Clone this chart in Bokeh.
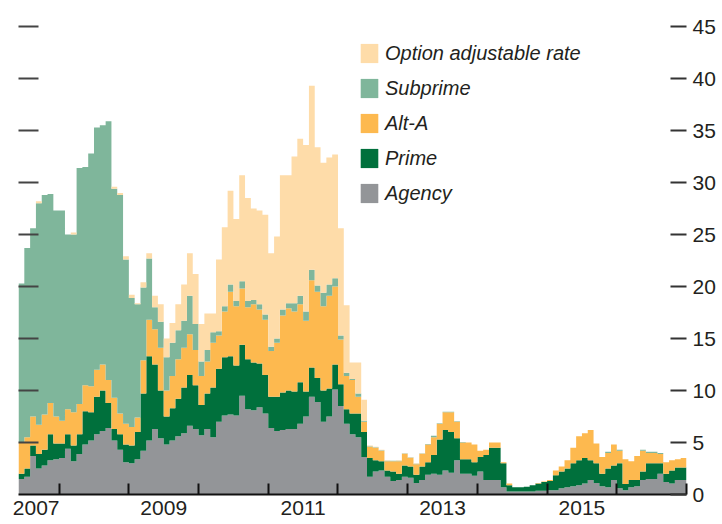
from bokeh.plotting import figure
from bokeh.models import Range1d, FixedTicker, LinearAxis, Legend, LegendItem, ColumnDataSource
from bokeh.embed import file_html
from bokeh.resources import INLINE

# Monthly data, June 2007 .. December 2016 (percent)
start_year, start_month = 2007, 6

agency = [1.5, 1.7, 3.7, 2.5, 2.8, 3.3, 3.4, 3.5, 4.4, 3.2,
          3.9, 4.8, 5.2, 5.8, 6.1, 6.4, 5.2, 4.3, 3.1, 3.0,
          3.4, 4.2, 5.2, 6.3, 5.4, 4.8, 5.2, 5.6, 5.9, 6.6,
          6.3, 5.7, 6.3, 5.5, 7.0, 7.6, 7.7, 7.6, 9.5, 8.2,
          8.1, 8.4, 7.8, 6.4, 6.1, 6.2, 6.3, 6.3, 6.8, 7.5,
          9.4, 8.9, 7.0, 7.5, 10.1, 8.5, 6.8, 5.8, 5.5, 3.6,
          1.7, 2.2, 2.3, 1.7, 1.3, 1.4, 1.7, 1.6, 1.1, 1.4,
          1.9, 2.0, 1.9, 2.3, 2.1, 3.3, 2.0, 2.0, 1.8, 2.2,
          1.4, 1.4, 1.4, 0.7, 0.3, 0.3, 0.3, 0.3, 0.3, 0.35,
          0.35, 0.4, 0.4, 0.6, 0.7, 0.8, 0.9, 1.05, 1.4, 1.1,
          0.8, 0.7, 1.4, 0.6, 0.4, 0.7, 0.8, 1.4, 1.5, 1.5,
          2.0, 1.2, 1.05, 1.4, 1.4]

prime = [0.5, 0.8, 1.0, 1.4, 1.5, 2.5, 1.5, 1.4, 1.4, 1.5,
         1.9, 3.2, 2.7, 3.6, 3.9, 2.4, 1.1, 1.5, 1.7, 1.7,
         2.6, 5.5, 8.1, 6.2, 4.6, 2.7, 3.1, 3.6, 4.4, 4.9,
         4.2, 2.9, 3.4, 4.8, 5.1, 5.6, 5.6, 4.8, 4.9, 4.8,
         4.6, 4.2, 3.7, 3.0, 3.3, 3.6, 3.7, 3.6, 4.0, 2.4,
         2.8, 2.3, 3.0, 2.7, 2.4, 2.1, 1.4, 2.0, 2.3, 2.4,
         1.8, 1.1, 0.9, 0.6, 0.9, 0.6, 1.1, 1.1, 0.8, 1.3,
         1.2, 1.8, 3.4, 3.9, 3.9, 2.1, 1.4, 1.4, 1.3, 1.4,
         2.4, 3.1, 3.1, 2.3, 0.6, 0.4, 0.4, 0.45, 0.6, 0.7,
         0.85, 0.9, 1.45, 1.6, 1.8, 2.2, 2.4, 2.45, 1.9, 1.9,
         1.2, 1.8, 1.4, 2.4, 0.6, 0.7, 0.6, 0.8, 1.5, 1.5,
         1.0, 0.8, 1.25, 1.2, 1.2]

alt_a = [3.0, 3.0, 2.8, 2.8, 3.4, 3.0, 2.6, 2.2, 2.4, 3.2,
         2.9, 2.5, 2.5, 2.6, 2.5, 2.2, 3.0, 2.0, 2.0, 1.8,
         1.4, 3.2, 3.5, 3.4, 4.1, 2.5, 3.1, 3.8, 3.8, 3.9,
         3.4, 2.8, 3.1, 4.3, 3.2, 4.4, 6.2, 5.7, 5.4, 5.0,
         5.6, 5.2, 5.3, 4.4, 5.2, 7.4, 7.9, 7.7, 7.5, 6.8,
         8.4, 8.3, 8.1, 8.9, 7.5, 4.3, 3.2, 3.2, 1.6, 1.0,
         1.1, 1.2, 1.0, 0.9, 1.0, 1.2, 1.1, 0.8, 1.0, 1.2,
         1.7, 1.7, 1.5, 1.7, 1.9, 1.6, 1.6, 1.6, 1.7, 0.6,
         0.5, 0.5, 0.5, 0.1, 0.15, 0.0, 0.0, 0.0, 0.0, 0.05,
         0.05, 0.1, 0.45, 0.5, 0.8, 1.5, 2.3, 2.4, 2.9, 1.9,
         1.6, 1.5, 2.0, 1.2, 2.4, 1.8, 2.3, 2.0, 1.0, 1.0,
         0.9, 1.1, 1.0, 0.8, 0.9]

subprime = [15.3, 18.2, 18.1, 21.3, 21.1, 20.1, 19.8, 20.2, 16.8, 17.1,
            22.7, 21.0, 22.4, 23.3, 23.0, 24.9, 20.1, 21.0, 15.8, 12.4,
            10.9, 7.0, 5.9, 2.1, 2.5, 3.2, 3.2, 2.8, 2.6, 3.7,
            2.5, 1.4, 1.1, 1.0, 0.4, 0.5, 0.7, 0.5, 0.7, 0.6,
            0.4, 0.5, 0.5, 0.4, 0.4, 0.6, 0.5, 0.8, 0.8, 0.9,
            1.0, 0.6, 1.3, 1.1, 0.8, 0.4, 0.3, 0.1, 0.3, 0.1,
            0.05, 0.05, 0.05, 0.05, 0.05, 0.05, 0.05, 0.05, 0.05, 0.05,
            0.05, 0.15, 0.05, 0.05, 0.05, 0.05, 0.05, 0.0, 0.0, 0.0,
            0.0, 0.0, 0.0, 0.0, 0.0, 0.0, 0.0, 0.0, 0.0, 0.0,
            0.0, 0.0, 0.0, 0.0, 0.0, 0.0, 0.0, 0.0, 0.0, 0.0,
            0.0, 0.1, 0.0, 0.1, 0.0, 0.0, 0.0, 0.1, 0.1, 0.1,
            0.1, 0.0, 0.0, 0.0, 0.0]

option_arm = [0.0, 0.0, 0.0, 0.2, 0.0, 0.0, 0.0, 0.0, 0.0, 0.2,
              0.0, 0.0, 0.0, 0.0, 0.0, 0.0, 0.2, 0.2, 0.3, 0.3,
              0.1, 0.5, 0.5, 1.1, 1.7, 1.8, 1.9, 2.5, 3.5, 4.1,
              4.8, 3.6, 3.5, 1.8, 6.9, 7.6, 9.0, 7.9, 10.2, 9.9,
              8.8, 9.0, 9.6, 9.0, 9.8, 12.9, 12.3, 14.1, 15.1, 16.0,
              17.7, 13.3, 12.5, 12.2, 11.9, 10.3, 6.5, 1.6, 3.0, 2.0,
              0.05, 0.05, 0.05, 0.05, 0.0, 0.05, 0.05, 0.05, 0.05, 0.05,
              0.0, 0.0, 0.0, 0.0, 0.0, 0.0, 0.0, 0.0, 0.0, 0.0,
              0.0, 0.0, 0.0, 0.0, 0.0, 0.0, 0.0, 0.0, 0.0, 0.0,
              0.0, 0.0, 0.0, 0.0, 0.0, 0.0, 0.0, 0.0, 0.0, 0.0,
              0.0, 0.0, 0.0, 0.0, 0.0, 0.0, 0.0, 0.0, 0.0, 0.0,
              0.0, 0.0, 0.0, 0.0, 0.0]

series_values = [agency, prime, alt_a, subprime, option_arm]
series_names = ["Agency", "Prime", "Alt-A", "Subprime", "Option adjustable rate"]
series_colors = ["#939598", "#00703C", "#FDB94F", "#7FB69B", "#FEDCA9"]

year_boundaries = list(range(2008, 2018))
year_label_pos = [2007.67, 2009.5, 2011.5, 2013.5, 2015.5]
year_labels = ["2007", "2009", "2011", "2013", "2015"]
y_ticks = [0, 5, 10, 15, 20, 25, 30, 35, 40, 45]

FONT = "Liberation Sans, Arial, sans-serif"
TXT = "#231F20"
TICK = "#333333"

n = len(agency)
# month edges (left edge of every month, plus the closing edge)
edges = [start_year + (start_month - 1 + i) / 12.0 for i in range(n + 1)]

p = figure(width=722, height=524,
           x_range=Range1d(edges[0], edges[-1]),
           y_range=Range1d(0, 45),
           output_backend="svg", toolbar_location=None,
           y_axis_location="right",
           min_border_left=18, min_border_top=26, min_border_right=36, min_border_bottom=30)
p.outline_line_color = None
p.xgrid.visible = False
p.ygrid.visible = False
p.background_fill_color = "white"

# stacked monthly steps
renderers = []
lower = [0.0] * n
for vals, name, color in zip(series_values, series_names, series_colors):
    upper = [lo + v for lo, v in zip(lower, vals)]
    src = ColumnDataSource(dict(x=edges, y1=lower + [lower[-1]], y2=upper + [upper[-1]]))
    r = p.varea_step(x="x", y1="y1", y2="y2", step_mode="after", source=src,
                     fill_color=color, fill_alpha=1.0)
    renderers.append(r)
    lower = upper

# x axis: labels centred in years, ticks at year boundaries
xa = p.xaxis[0]
xa.ticker = FixedTicker(ticks=year_label_pos, minor_ticks=year_boundaries)
xa.major_label_overrides = {pos: lab for pos, lab in zip(year_label_pos, year_labels)}
xa.major_tick_line_color = None
xa.major_tick_in = 0
xa.major_tick_out = 0
xa.minor_tick_in = 11
xa.minor_tick_out = 0
xa.minor_tick_line_color = "#111111"
xa.minor_tick_line_width = 2
xa.axis_line_color = "#111111"
xa.axis_line_width = 2
xa.major_label_standoff = 6
xa.major_label_text_font = FONT
xa.major_label_text_font_size = "21px"
xa.major_label_text_color = TXT

# right axis with labels
ya = p.yaxis[0]
ya.ticker = FixedTicker(ticks=y_ticks)
ya.axis_line_color = None
ya.major_tick_in = 16
ya.major_tick_out = 0
ya.major_tick_line_color = TICK
ya.major_tick_line_width = 2
ya.minor_tick_line_color = None
ya.major_label_standoff = 6
ya.major_label_text_font = FONT
ya.major_label_text_font_size = "21px"
ya.major_label_text_color = TXT

# left axis: tick marks only, no labels drawn
la = LinearAxis(ticker=FixedTicker(ticks=y_ticks[1:]))
la.axis_line_color = None
la.major_tick_in = 20
la.major_tick_out = 0
la.major_tick_line_color = "#444444"
la.major_tick_line_width = 2
la.minor_tick_line_color = None
la.major_label_text_color = None
la.major_label_text_font_size = "1px"
la.major_label_standoff = 0
p.add_layout(la, "left")

items = [LegendItem(label=name, renderers=[r]) for name, r in zip(series_names, renderers)][::-1]
legend = Legend(items=items, location=(340, 289), orientation="vertical",
                glyph_width=22, glyph_height=24, label_standoff=5, spacing=11,
                padding=0, margin=0, border_line_color=None, background_fill_alpha=0,
                label_text_font=FONT, label_text_font_style="italic",
                label_text_font_size="20px", label_text_color=TXT,
                label_height=24)
p.add_layout(legend, "center")

open("out.html", "w").write(file_html(p, INLINE))
